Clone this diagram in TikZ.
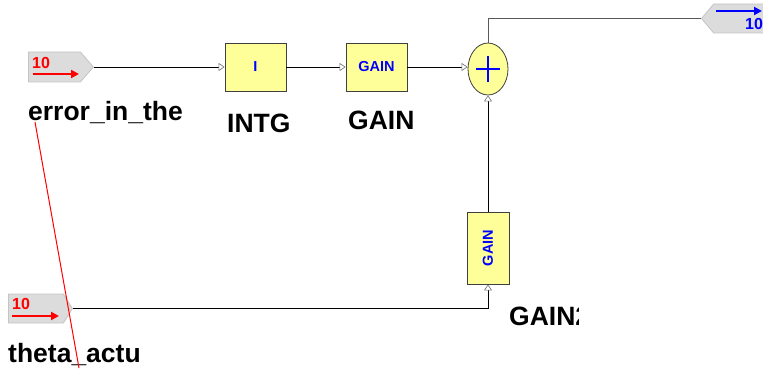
\documentclass[tikz,border=0pt]{standalone}
\usepackage{fontspec}
\setmainfont{Liberation Sans}
\usetikzlibrary{arrows.meta,shapes.symbols,shapes.geometric}
\definecolor{blkyellow}{HTML}{FFFF99}
\definecolor{portgray}{HTML}{DCDCDC}
\definecolor{portedge}{HTML}{C4C4C4}
\begin{document}
\begin{tikzpicture}[x=1pt,y=-1pt,
  blk/.style={draw=black!75, fill=blkyellow, inner sep=0pt, line width=0.8pt},
  blktext/.style={text=blue, font=\fontsize{14.5}{16}\selectfont\bfseries},
  lbl/.style={anchor=base west, inner sep=0pt, font=\fontsize{26.5}{30}\selectfont\bfseries},
  port/.style={shape=signal, draw=portedge, fill=portgray, inner sep=0pt, line width=0.8pt},
  portnum/.style={anchor=base west, inner sep=0pt, font=\fontsize{16}{18}\selectfont\bfseries},
  conn/.style={draw=black, line width=0.8pt, -{Triangle[length=6pt,width=8pt,color=black!55,fill=white,line width=0.6pt]}},
  outconn/.style={draw=black!65, line width=0.8pt}]
\useasboundingbox (0,0) rectangle (763,369);

% ports
\node[port, signal to=east, signal pointer angle=98, minimum width=65pt, minimum height=30pt, anchor=west] (pin) at (28,67) {};
\node[portnum, text=red] (pinnum) at (32,69) {10};
\draw[red, line width=2.2pt, -{Triangle[length=8pt,width=8pt]}] (33,74) -- (79,74);

\node[port, signal to=east, signal pointer angle=116, minimum width=64pt, minimum height=29pt, anchor=west] (ptheta) at (8,308.5) {};
\node[portnum, text=red] (pthetanum) at (12,309) {10};
\draw[red, line width=2.2pt, -{Triangle[length=8pt,width=8pt]}] (12,316) -- (59,316);

\node[port, signal to=west, signal pointer angle=100, minimum width=64pt, minimum height=29pt, anchor=west] (pout) at (701,18.5) {};
\node[portnum, text=blue] (poutnum) at (745,29.5) {10};
\draw[blue, line width=2.2pt, -{Triangle[length=8pt,width=8pt]}] (716,11) -- (762,11);

% blocks
\node[blk, minimum width=61pt, minimum height=48pt] (intg) at (255.5,67) {};
\node[blktext] at (intg.center) {I};
\node[blk, minimum width=61pt, minimum height=48pt] (gain) at (376.5,67) {};
\node[blktext] at (gain.center) {GAIN};
\node[blk, minimum width=42pt, minimum height=72pt] (gain2) at (488,248) {};
\node[blktext, rotate=90] at (gain2.center) {GAIN};

\node[ellipse, draw=black!75, fill=blkyellow, line width=0.8pt, minimum width=40pt, minimum height=52pt, inner sep=0pt] (sum) at (488,69) {};
\draw[blue, line width=1.6pt] ([xshift=-12pt]sum.center) -- ([xshift=12pt]sum.center);
\draw[blue, line width=1.6pt] ([yshift=-13pt]sum.center) -- ([yshift=13pt]sum.center);

% labels
\node[lbl] (l1) at (28,121) {error\_in\_the};
\node[lbl] (l2) at (227,132) {INTG};
\node[lbl] (l3) at (348,129) {GAIN};
\node[lbl] (l5) at (8,362) {theta\_actu};
\begin{scope}
\clip (0,0) rectangle (578,369);
\node[lbl] (l4) at (509,325) {GAIN2};
\end{scope}

% connectors
\draw[conn] (pin.east) -- (intg.west);
\draw[conn] (intg.east) -- (gain.west);
\draw[conn] (gain.east) -- (gain.east -| sum.west);
\draw[conn] (ptheta.east) -| (gain2.south);
\draw[conn] (gain2.north) -- (sum.south);
\draw[outconn] (sum.north) |- (pout.west);

% stray red line
\draw[red, line width=1pt] (35,122) -- (79,368);
\end{tikzpicture}
\end{document}
